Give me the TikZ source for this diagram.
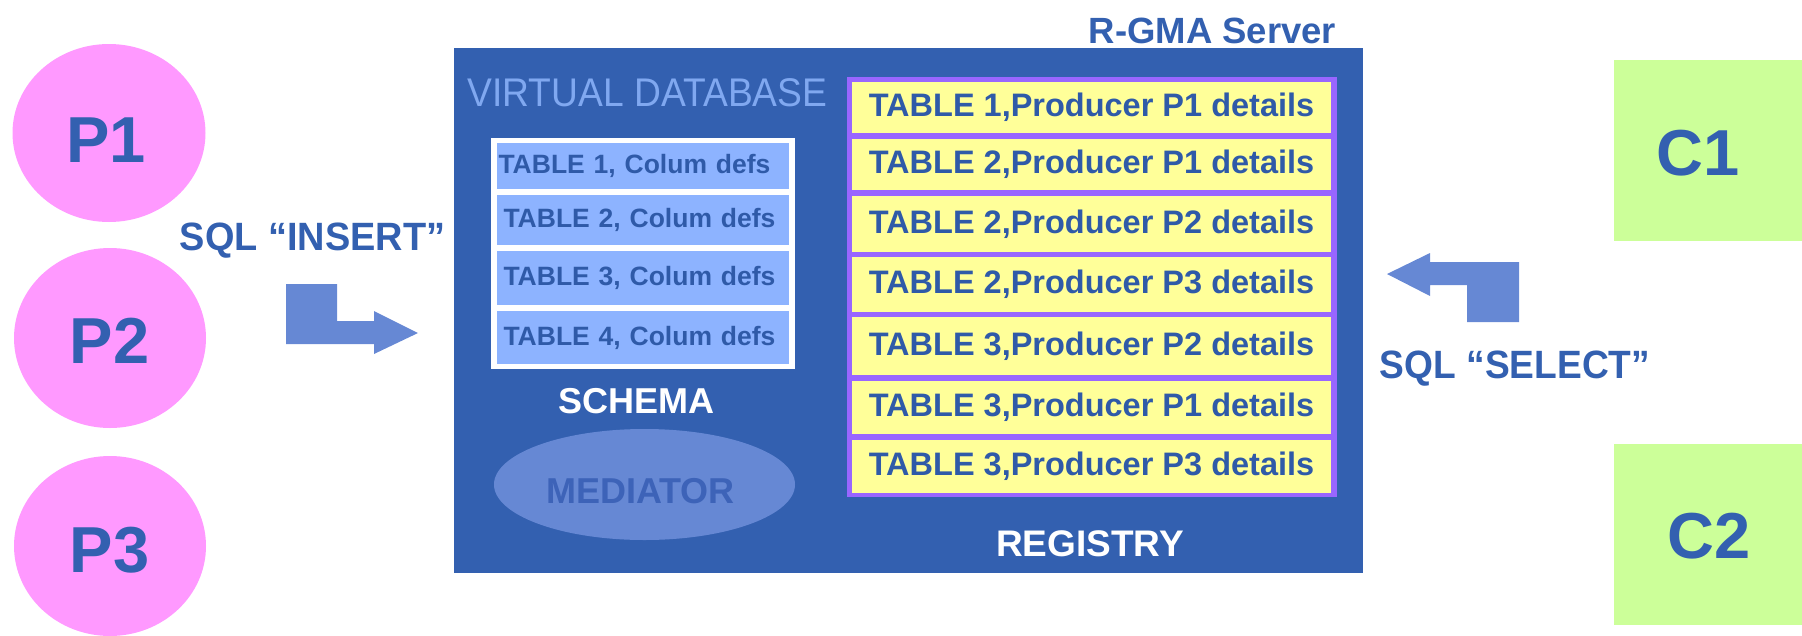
\documentclass[tikz,border=0pt]{standalone}
\usepackage{fontspec}
\setmainfont{Liberation Sans}
\usetikzlibrary{shapes.geometric}

\definecolor{srvblue}{HTML}{3360B0}
\definecolor{inkblue}{HTML}{3360B0}
\definecolor{rowink}{HTML}{2F5AA8}
\definecolor{rowblue}{HTML}{8DB3FF}
\definecolor{vdbblue}{HTML}{80A8F0}
\definecolor{arrowblue}{HTML}{6688D4}
\definecolor{medink}{HTML}{3D63B8}
\definecolor{regyellow}{HTML}{FFFF99}
\definecolor{regpurple}{HTML}{9966FF}
\definecolor{conggreen}{HTML}{CCFF99}
\definecolor{prodpink}{HTML}{FF99FF}

\newcommand{\fsz}[1]{\fontsize{#1}{#1}\selectfont}

\begin{document}
\begin{tikzpicture}[x=1pt,y=-1pt,
  every node/.style={inner sep=0pt,outer sep=0pt},
  box/.style={rectangle,minimum width=#1},
  producer/.style={ellipse,fill=prodpink,minimum width=192pt,minimum height=180pt},
  consumer/.style={rectangle,fill=conggreen,minimum width=188pt,minimum height=181pt},
  bigname/.style={anchor=base,text=inkblue,font=\fsz{65}\bfseries},
  srow/.style={rectangle,fill=rowblue,minimum height=#1,inner xsep=6.5pt,
    text width=279pt,align=left,text=rowink,font=\fsz{26.5}\bfseries},
  rrow/.style={rectangle,fill=regyellow,minimum width=479pt,minimum height=#1,
    text=rowink,font=\fsz{32.5}\bfseries},
  caption/.style={anchor=base,text=white,font=\fsz{37}\bfseries},
  sqllabel/.style={anchor=base,text=inkblue,font=\fsz{39.5}\bfseries}
]
\useasboundingbox (0,0) rectangle (1802,635);

% producers
\node[producer,minimum width=193pt,minimum height=178pt] (p1) at (109,133) {};
\node[producer] (p2) at (110,338) {};
\node[producer] (p3) at (110,546) {};
\node[bigname] (p1t) at (106,162) {P1};
\node[bigname] (p2t) at (109.5,363) {P2};
\node[bigname] (p3t) at (109.5,572) {P3};

% consumers
\node[consumer] (c1) at (1708,150.5) {};
\node[consumer] (c2) at (1708,534.5) {};
\node[bigname] (c1t) at (1698,175) {C1};
\node[bigname] (c2t) at (1709.5,558) {C2};

% server
\node[anchor=base,text=inkblue,font=\fsz{36.5}\bfseries] (title) at (1212.5,43) {R-GMA Server};
\node[rectangle,fill=srvblue,minimum width=909pt,minimum height=525pt] (srv) at (908.5,310.5) {};
\node[anchor=base,text=vdbblue,font=\fsz{40}] (vdb) at (647.5,106) {\scalebox{0.93}[1]{VIRTUAL DATABASE}};

% schema table
\node[rectangle,fill=white,minimum width=304pt,minimum height=231pt] (schema) at (643,253.5) {};
\node[srow=46pt,inner xsep=1.5pt,text width=289pt] (s1) at (643,166) {TABLE 1, Colum defs};
\node[srow=50pt] (s2) at (643,220) {TABLE 2, Colum defs};
\node[srow=54pt] (s3) at (643,278) {TABLE 3, Colum defs};
\node[srow=53pt] (s4) at (643,337.5) {TABLE 4, Colum defs};
\node[caption,font=\fsz{36}\bfseries] (schemat) at (636.5,413) {SCHEMA};

% mediator
\node[ellipse,fill=arrowblue,minimum width=301pt,minimum height=111pt] (med) at (644.5,484.5) {};
\node[anchor=base,text=medink,font=\fsz{36}\bfseries] (medt) at (640.5,503) {MEDIATOR};

% registry table
\node[rectangle,fill=regpurple,minimum width=490pt,minimum height=420pt] (reg) at (1092,287) {};
\node[rrow=51pt] (r1) at (1091.5,107.5) {TABLE 1,Producer P1 details};
\node[rrow=51pt] (r2) at (1091.5,164.5) {TABLE 2,Producer P1 details};
\node[rrow=56pt] (r3) at (1091.5,224) {TABLE 2,Producer P2 details};
\node[rrow=55pt] (r4) at (1091.5,284.5) {TABLE 2,Producer P3 details};
\node[rrow=58pt] (r5) at (1091.5,346) {TABLE 3,Producer P2 details};
\node[rrow=53pt] (r6) at (1091.5,407.5) {TABLE 3,Producer P1 details};
\node[rrow=53pt] (r7) at (1091.5,466.5) {TABLE 3,Producer P3 details};
\node[caption] (regt) at (1090,556) {REGISTRY};

% query labels and block arrows
\node[sqllabel] (ins) at (312.5,250) {\scalebox{0.96}[1]{SQL “INSERT”}};
\node[sqllabel] (sel) at (1515,378) {\scalebox{0.94}[1]{SQL “SELECT”}};
\fill[arrowblue] (286,284) -- (337,284) -- (337,321) -- (374,321) -- (374,311)
  -- (418,333) -- (374,354) -- (374,344) -- (286,344) -- cycle;
\fill[arrowblue] (1387,274) -- (1430,253) -- (1430,262) -- (1519,262) -- (1519,322)
  -- (1467,322) -- (1467,285) -- (1430,285) -- (1430,296) -- cycle;
\end{tikzpicture}
\end{document}
